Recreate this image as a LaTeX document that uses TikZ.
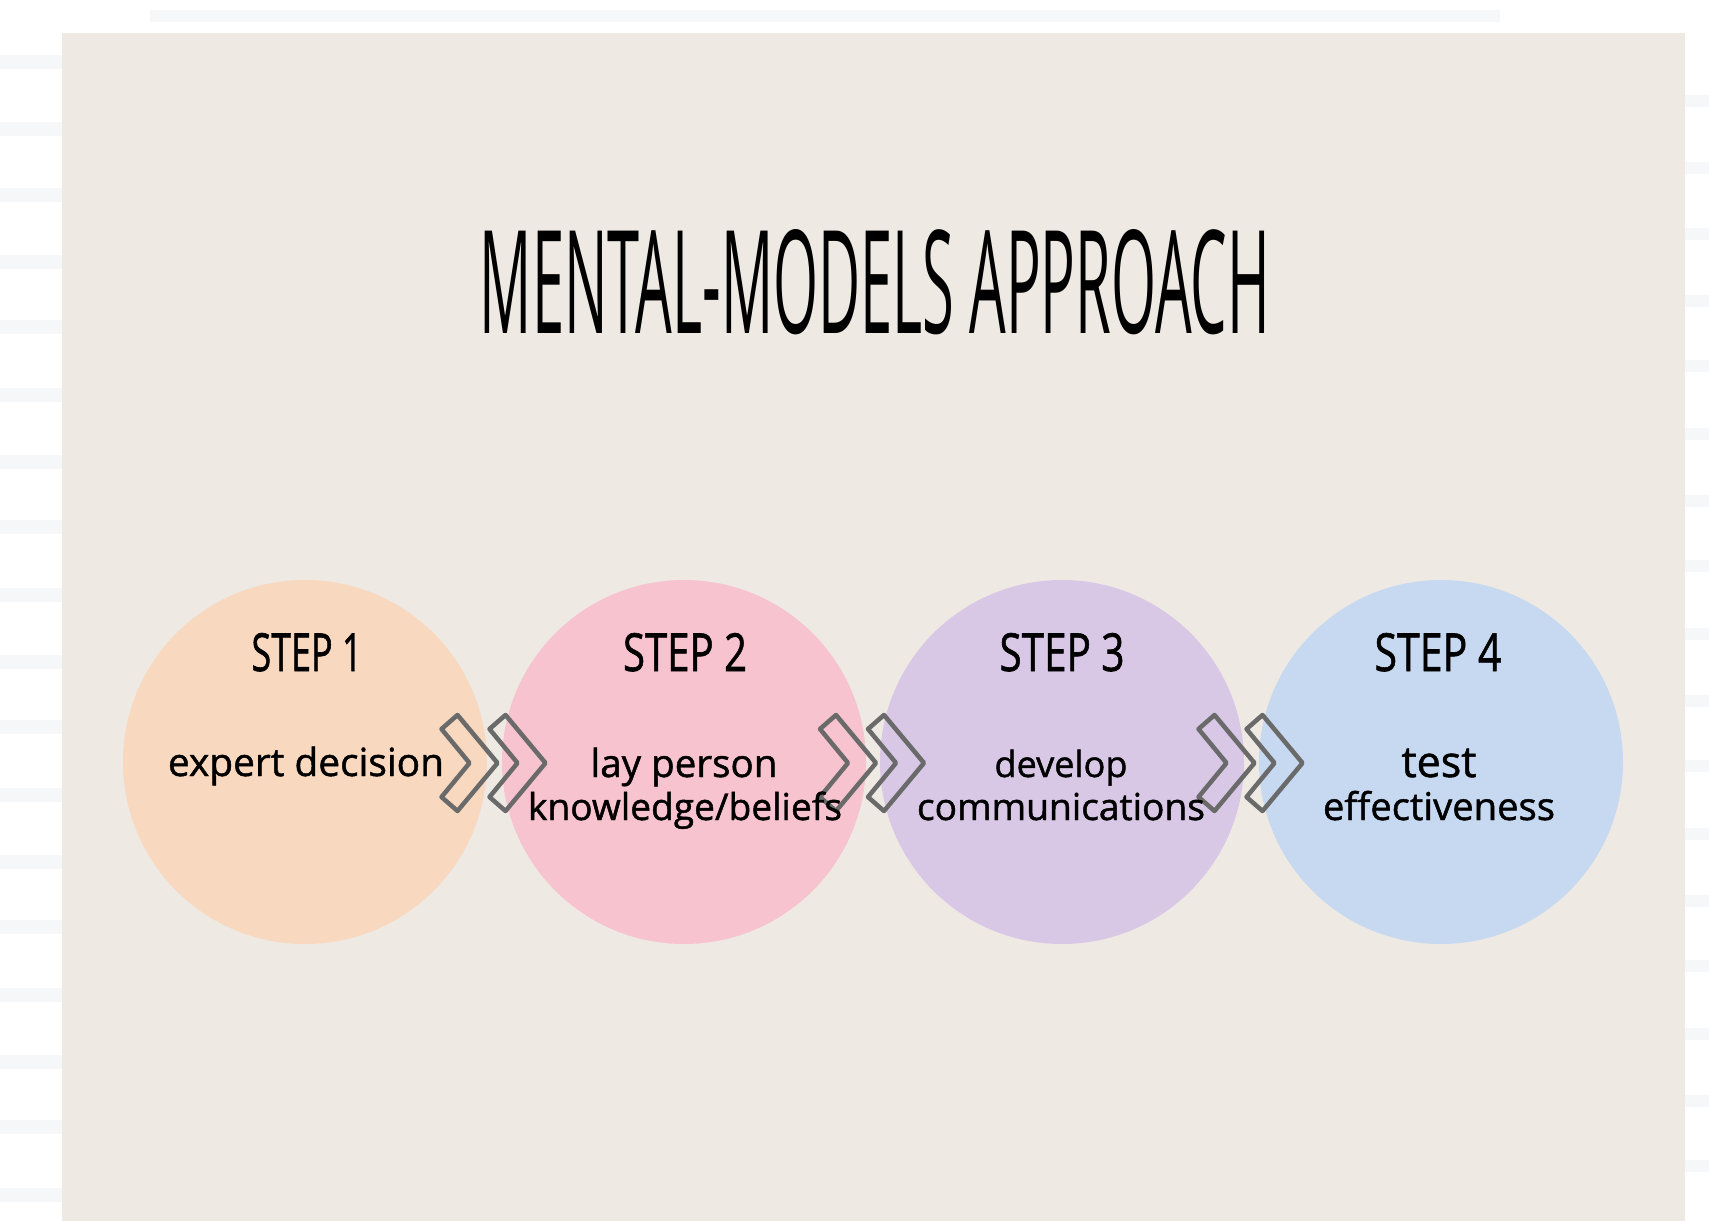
\documentclass[tikz,border=0pt]{standalone}
\usepackage{fontspec}
\setmainfont{Open Sans}
\newfontfamily\handfont{Open Sans}[FakeBold=1.2]
\usetikzlibrary{calc}
\definecolor{panel}{HTML}{EEE9E3}
\definecolor{peach}{HTML}{F8D8BF}
\definecolor{pinkc}{HTML}{F6C3CF}
\definecolor{lav}{HTML}{D8C8E6}
\definecolor{bluec}{HTML}{C6D9F0}
\definecolor{chevgray}{HTML}{6A6A6A}
\definecolor{stripe}{HTML}{F6F7F8}
\begin{document}
\begin{tikzpicture}[x=1pt,y=-1pt,
  stepcircle/.style={circle, minimum size=364pt, inner sep=0pt, draw=none},
  steplabel/.style={anchor=base, inner sep=0pt, text=black, font=\handfont},
  bodytext/.style={anchor=base, inner sep=0pt, text=black, font=\handfont},
  chev/.pic={\draw[chevgray, line width=4.5pt, line join=round]
      (0,0) -- (-40,-48) -- (-56,-34) -- (-28,0) -- (-56,34) -- (-40,48) -- cycle;}
]
\useasboundingbox (0,0) rectangle (1709,1221);
\fill[white] (0,0) rectangle (1709,1221);
% faint background stripes
\foreach \yy in {55,122,188,255,320,388,455,520,588,655,720,788,855,920,988,1055,1120,1188}{
  \fill[stripe] (0,\yy) rectangle (62,\yy+14);
  \fill[stripe] (1685,\yy+40) rectangle (1709,\yy+52);
}
\fill[stripe] (150,10) rectangle (1500,22);
% panel
\fill[panel] (62,33) rectangle (1685,1221);

% title
\node[anchor=base, inner sep=0pt] (title) at (875,333)
  {\resizebox{790pt}{104pt}{MENTAL-MODELS APPROACH}};

% circles
\node[stepcircle, fill=peach] (c1) at (305,762) {};
\node[stepcircle, fill=pinkc] (c2) at (684,762) {};
\node[stepcircle, fill=lav]   (c3) at (1062,762) {};
\node[stepcircle, fill=bluec] (c4) at (1441,762) {};

% chevrons
\coordinate (m1) at ($(c1.east)!0.5!(c2.west)$);
\coordinate (m2) at ($(c2.east)!0.5!(c3.west)$);
\coordinate (m3) at ($(c3.east)!0.5!(c4.west)$);
\foreach \m in {m1,m2,m3}{
  \pic at ($(\m)+(3,1)$) {chev};
  \pic at ($(\m)+(51,1)$) {chev};
}

% step labels
\node[steplabel] (s1) at (307,671) {\resizebox{111pt}{38pt}{STEP 1}};
\node[steplabel] (s2) at (685,671) {\resizebox{124pt}{38pt}{STEP 2}};
\node[steplabel] (s3) at (1062,671) {\resizebox{125pt}{38pt}{STEP 3}};
\node[steplabel] (s4) at (1438,671) {\resizebox{127pt}{38pt}{STEP 4}};

% body texts
\node[bodytext] (t1) at (306,776) {\resizebox{276pt}{!}{expert decision}};
\node[bodytext] (t2a) at (684,777) {\resizebox{187pt}{!}{lay person}};
\node[bodytext] (t2b) at (685,820) {\resizebox{314pt}{!}{knowledge/beliefs}};
\node[bodytext] (t3a) at (1061,777) {\resizebox{133pt}{!}{develop}};
\node[bodytext] (t3b) at (1061,820) {\resizebox{288pt}{!}{communications}};
\node[bodytext] (t4a) at (1439,777) {\resizebox{75pt}{!}{test}};
\node[bodytext] (t4b) at (1439,820) {\resizebox{232pt}{!}{effectiveness}};
\end{tikzpicture}
\end{document}
